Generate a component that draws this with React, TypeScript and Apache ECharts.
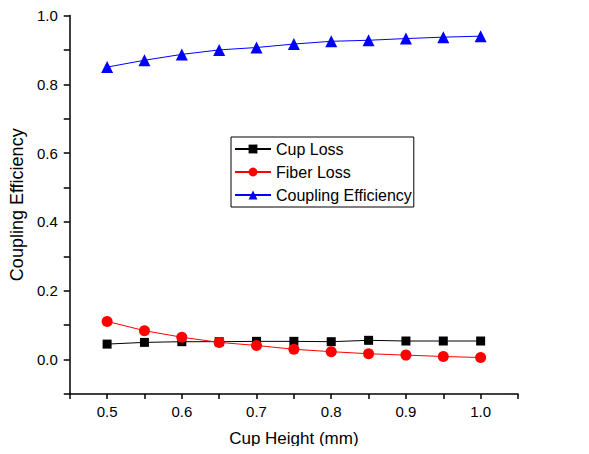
import React, { useEffect, useRef } from "react";
import * as echarts from "echarts";

const cupHeight = [0.5, 0.55, 0.6, 0.65, 0.7, 0.75, 0.8, 0.85, 0.9, 0.95, 1.0];
const cupLoss = [0.045, 0.05, 0.052, 0.052, 0.053, 0.053, 0.052, 0.056, 0.054, 0.054, 0.054];
const fiberLoss = [0.111, 0.084, 0.065, 0.05, 0.041, 0.03, 0.023, 0.017, 0.013, 0.009, 0.006];
const couplingEff = [0.85, 0.87, 0.887, 0.9, 0.907, 0.917, 0.925, 0.928, 0.933, 0.937, 0.94];

const seriesNames = ["Cup Loss", "Fiber Loss", "Coupling Efficiency"];
const seriesColors = ["#000000", "#ff0000", "#0000ff"];
const seriesSymbols = ["rect", "circle", "triangle"];
const symbolSizes = [9, 11, 12];

const FONT = "'Liberation Sans', Arial, sans-serif";

export default function App() {
  const ref = useRef<HTMLDivElement>(null);
  useEffect(() => {
    if (!ref.current) return;
    const chart = echarts.init(ref.current, undefined, { renderer: "svg" });
    const datasets = [cupLoss, fiberLoss, couplingEff];
    chart.setOption({
      animation: false,
      backgroundColor: "#ffffff",
      textStyle: { fontFamily: FONT },
      grid: { left: 66, top: 15.5, right: 71, bottom: 60, containLabel: false },
      legend: {
        orient: "vertical",
        left: 231,
        top: 137,
        width: 186,
        padding: [4, 2, 4, 3],
        itemGap: 7,
        itemWidth: 36,
        itemHeight: 11,
        borderColor: "#000",
        borderWidth: 1,
        backgroundColor: "#fff",
        textStyle: { fontSize: 16, color: "#000", fontFamily: FONT },
        data: seriesNames,
      },
      xAxis: {
        type: "value",
        min: 0.45,
        max: 1.05,
        interval: 0.05,
        name: "Cup Height (mm)",
        nameLocation: "middle",
        nameGap: 36,
        nameTextStyle: { fontSize: 17, color: "#000", fontFamily: FONT },
        axisLine: { show: true, onZero: false, lineStyle: { color: "#000", width: 1.5 } },
        axisTick: { show: true, length: 5, lineStyle: { color: "#000", width: 1.5 } },
        axisLabel: {
          margin: 10,
          fontSize: 15,
          color: "#000",
          fontFamily: FONT,
          showMinLabel: true,
          showMaxLabel: true,
          formatter: (v: number) => {
            const k = Math.round(v * 100);
            if (k % 10 !== 0 || k < 50 || k > 100) return "";
            return (k / 100).toFixed(1);
          },
        },
        splitLine: { show: false },
      },
      yAxis: {
        type: "value",
        min: -0.1,
        max: 1.0,
        interval: 0.1,
        name: "Coupling Efficiency",
        nameLocation: "middle",
        nameGap: 38,
        nameTextStyle: { fontSize: 18, color: "#000", fontFamily: FONT },
        axisLine: { show: true, onZero: false, lineStyle: { color: "#000", width: 1.5 } },
        axisTick: { show: true, length: 6, lineStyle: { color: "#000", width: 1.5 } },
        axisLabel: {
          margin: 12,
          fontSize: 15,
          color: "#000",
          fontFamily: FONT,
          formatter: (v: number) => {
            const k = Math.round(v * 10);
            if (k < 0 || k % 2 !== 0) return "";
            return (k / 10).toFixed(1);
          },
        },
        splitLine: { show: false },
      },
      series: seriesNames.map((name, i) => ({
        name,
        type: "line",
        data: cupHeight.map((x, j) => [x, datasets[i][j]]),
        symbol: seriesSymbols[i],
        symbolSize: symbolSizes[i],
        showSymbol: true,
        lineStyle: { color: seriesColors[i], width: 1 },
        itemStyle: { color: seriesColors[i] },
        z: 2 + i,
      })),
    });
    return () => chart.dispose();
  }, []);
  return <div ref={ref} style={{ width: 589, height: 454, margin: -8 }} />;
}
